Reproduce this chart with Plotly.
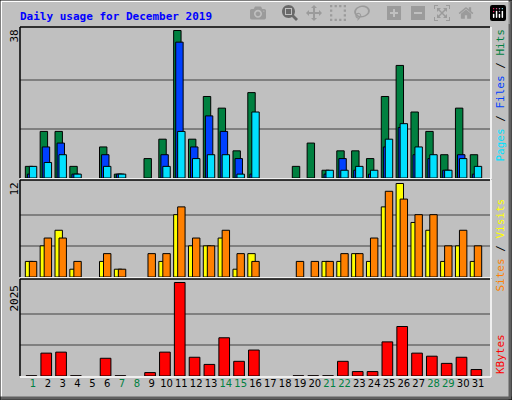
import plotly.graph_objects as go

days = list(range(1, 32))
hits = [3, 12, 12, 3, 0, 8, 1, 0, 5, 10, 38, 10, 21, 18, 7, 22, 0, 0, 3, 9, 2, 7, 7, 5, 21, 29, 17, 12, 6, 18, 6]
files = [1, 8, 9, 1, 0, 6, 1, 0, 0, 6, 35, 8, 16, 12, 5, 1, 0, 0, 0, 0, 1, 5, 2, 1, 8, 13, 6, 5, 2, 6, 1]
pages = [3, 4, 6, 1, 0, 3, 1, 0, 0, 3, 12, 5, 6, 6, 1, 17, 0, 0, 0, 0, 2, 2, 3, 2, 10, 14, 8, 6, 2, 5, 3]
visits = [2, 4, 6, 1, 0, 2, 1, 0, 0, 2, 8, 4, 4, 5, 1, 3, 0, 0, 0, 0, 2, 2, 3, 2, 9, 12, 7, 6, 2, 4, 2]
sites = [2, 5, 5, 2, 0, 3, 1, 0, 3, 3, 9, 5, 4, 6, 3, 2, 0, 0, 2, 2, 2, 3, 3, 5, 11, 10, 8, 8, 4, 6, 4]
kbytes = [5, 495, 517, 5, 0, 384, 5, 0, 74, 517, 2025, 406, 251, 828, 318, 562, 0, 0, 5, 5, 5, 318, 96, 96, 739, 1072, 495, 429, 273, 406, 140]
weekend = [1, 7, 8, 14, 15, 21, 22, 28, 29]

W, H = 512, 400
px = lambda x: x / W
py = lambda y: 1 - y / H

fig = go.Figure()
line = dict(color="black", width=1)

def bar(vals, color, offset, width, ax):
    # zero days are not drawn at all
    vals = [v if v else None for v in vals]
    fig.add_trace(go.Bar(x=days, y=vals, marker=dict(color=color, line=line),
                         offset=offset, width=width, xaxis="x", yaxis=ax,
                         hoverinfo="skip", showlegend=False))

bar(hits, "#008040", -0.52, 0.5, "y")
bar(files, "#0040FF", -0.38, 0.5, "y")
bar(pages, "#00E0FF", -0.25, 0.5, "y")
bar(visits, "#FFFF00", -0.52, 0.5, "y2")
bar(sites, "#FF8000", -0.25, 0.5, "y2")
bar(kbytes, "#FF0000", -0.47, 0.72, "y3")

xr = [0.12, 31.81]
grid = dict(showgrid=True, gridcolor="#808080", gridwidth=1.5, showticklabels=False,
            zeroline=False, ticks="")
panels = {"yaxis": (27, 178, 38), "yaxis2": (180, 277, 12), "yaxis3": (279, 376, 2025)}
lay = {}
for name, (top, bot, mx) in panels.items():
    top_val = mx * (bot - top) / (bot - top - 3.5)
    lay[name] = dict(domain=[py(bot), py(top)], range=[0, top_val],
                     tickvals=[mx / 3, 2 * mx / 3], **grid)

ticktext = [f"<span style='color:#008040'>{d}</span>" if d in weekend else str(d) for d in days]
fig.update_layout(
    width=W, height=H, margin=dict(l=0, r=0, t=0, b=0),
    paper_bgcolor="#C0C0C0", plot_bgcolor="#C0C0C0", barmode="overlay",
    xaxis=dict(domain=[px(20), px(490)], range=xr, anchor="y3", tickvals=days,
               ticktext=ticktext, showgrid=False, zeroline=False, ticks="",
               tickfont=dict(family="DejaVu Sans", size=10, color="black")),
    font=dict(family="DejaVu Sans Mono", size=11, color="black"),
    **lay,
)

shapes = []
# outer 3D frame
shapes.append(dict(type="line", xref="paper", yref="paper", x0=0, x1=1, y0=py(1), y1=py(1), line=dict(color="white", width=2)))
shapes.append(dict(type="line", xref="paper", yref="paper", x0=px(1), x1=px(1), y0=0, y1=1, line=dict(color="white", width=2)))
shapes.append(dict(type="line", xref="paper", yref="paper", x0=0, x1=1, y0=py(398), y1=py(398), line=dict(color="#606060", width=3)))
shapes.append(dict(type="line", xref="paper", yref="paper", x0=px(510), x1=px(510), y0=0, y1=1, line=dict(color="#606060", width=3)))
shapes.append(dict(type="rect", xref="paper", yref="paper", x0=0, x1=1, y0=0, y1=1, line=dict(color="black", width=1)))
for top, bot, _ in panels.values():
    shapes.append(dict(type="line", xref="paper", yref="paper", x0=px(20), x1=px(490), y0=py(top), y1=py(top), line=dict(color="black", width=1.5)))
    shapes.append(dict(type="line", xref="paper", yref="paper", x0=px(20), x1=px(20), y0=py(bot), y1=py(top), line=dict(color="black", width=1.5)))
    shapes.append(dict(type="line", xref="paper", yref="paper", x0=px(20), x1=px(491), y0=py(bot + 1), y1=py(bot + 1), line=dict(color="white", width=1.5)))
    shapes.append(dict(type="line", xref="paper", yref="paper", x0=px(491), x1=px(491), y0=py(bot + 1), y1=py(top), line=dict(color="white", width=1.5)))
fig.update_layout(shapes=shapes)

def note(text, x, y, yanchor, angle=-90, **kw):
    fig.add_annotation(text=text, xref="paper", yref="paper", x=px(x), y=py(y),
                       xanchor="center", yanchor=yanchor, textangle=angle,
                       showarrow=False, **kw)

note("Daily usage for December 2019", 18, 16, "middle", angle=0,
     font=dict(color="#0000FF", size=11, family="DejaVu Sans Mono", weight="bold"))
fig.layout.annotations[-1].xanchor = "left"
note("38", 14, 28, "top")
note("12", 14, 181, "top")
note("2025", 14, 283, "top")
note("<span style='color:#00E0FF'>Pages</span> / <span style='color:#0040FF'>Files</span> / "
     "<span style='color:#008040'>Hits</span>", 500, 27, "top")
note("<span style='color:#FF8000'>Sites</span> / <span style='color:#FFFF00'>Visits</span>",
     500, 197, "top")
note("<span style='color:#FF0000'>KBytes</span>", 500, 376, "bottom")

fig.write_html("out.html", post_script="document.body.style.margin='0';")
